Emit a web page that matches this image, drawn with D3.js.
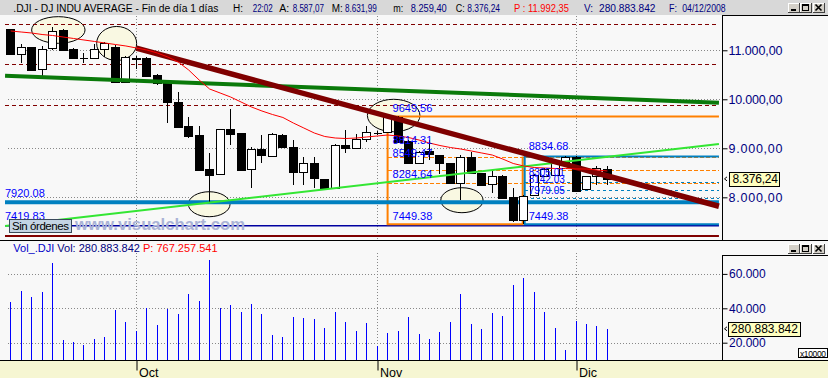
<!DOCTYPE html>
<html><head><meta charset="utf-8">
<script src="https://cdn.jsdelivr.net/npm/d3@7"></script>
<style>
body{margin:0;background:#f8f8f8;}
svg{display:block;font-family:"Liberation Sans",Arial,sans-serif;}
</style></head>
<body><svg id="c" width="828" height="378"></svg>
<script>
// ---------------- DATA ----------------
const dates = ["2008-09-15","2008-09-16","2008-09-17","2008-09-18","2008-09-19","2008-09-22","2008-09-23","2008-09-24","2008-09-25","2008-09-26","2008-09-29","2008-09-30",
"2008-10-01","2008-10-02","2008-10-03","2008-10-06","2008-10-07","2008-10-08","2008-10-09","2008-10-10","2008-10-13","2008-10-14","2008-10-15","2008-10-16","2008-10-17","2008-10-20","2008-10-21","2008-10-22","2008-10-23","2008-10-24","2008-10-27","2008-10-28","2008-10-29","2008-10-30","2008-10-31",
"2008-11-03","2008-11-04","2008-11-05","2008-11-06","2008-11-07","2008-11-10","2008-11-11","2008-11-12","2008-11-13","2008-11-14","2008-11-17","2008-11-18","2008-11-19","2008-11-20","2008-11-21","2008-11-24","2008-11-25","2008-11-26","2008-11-28",
"2008-12-01","2008-12-02","2008-12-03","2008-12-04"];
const openPrices  = [11429,10918,11061,10612,11041,11414,11020,10840,10837,11020,11073,10359,10840,10837,10496,10327,9951,9455,9271,8571,8469,9394,9306,8571,8986,8849,9271,9033,8522,8694,8367,8184,9067,9000,9190,9310,9327,9645,9155,8694,8945,8863,8694,8286,8816,8490,8271,8435,8012,7537,8050,8435,8455,8727,8829,8163,8435,8587.07];
const highPrices  = [11440,11129,11070,11094,11482,11430,11040,10939,11129,11170,11108,10880,10884,10860,10520,10330,10155,9645,9455,8898,9400,9796,9320,9033,9271,9320,9300,9169,8829,8829,8380,9080,9373,9300,9455,9350,9649.56,9650,9170,8950,9169,8870,8710,8863,8918,8500,8557,8450,8184,8050,8470,8600,8740,8834.68,8834,8440,8639,8631.99];
const lowPrices   = [10910,10747,10584,10461,11010,10990,10820,10747,10830,10857,10350,10350,10612,10470,10300,9522,9430,9204,8540,7878,8460,9067,8540,8196,8706,8840,9020,8251,8251,8184,8170,8170,8898,8990,9135,9270,9310,9120,8680,8680,8761,8469,8270,7945,8469,8240,8082,7980,7502,7449.38,8040,8420,8440,8720,8130,8150,8251,8259.40];
const closePrices = [10918,11073,10598,11020,11394,11006,10849,10837,11020,11155,10359,10869,10831,10482,10327,9951,9441,9257,8557,8449,9394,9292,8557,8986,8863,9298,9033,8522,8694,8388,8184,9067,9000,9184,9327,9306,9645,9135,8694,8931,8878,8694,8286,8829,8490,8251,8435,7992,7537,8033,8455,8571,8727,8829,8135,8435,8604,8376.24];
// volume in units of 10000 shares
const volumes = [43800,50200,46700,49700,66500,21600,20600,18800,22300,23500,39200,32200,26800,40300,30300,39800,36900,48500,44400,68100,40300,42100,38000,42700,36900,24700,23500,35100,34500,34000,28700,38000,32200,27000,31600,18100,25800,27000,35100,25200,22200,26400,32200,48500,31000,28100,37400,35700,53700,57600,49700,38000,28500,15900,32800,31000,29900,28088];
const movingAverage = [11394,11373,11353,11322,11302,11271,11241,11210,11180,11149,11118,11088,11047,11006,10945,10863,10761,10598,10394,10210,10129,10047,9945,9843,9761,9690,9629,9516,9414,9312,9241,9210,9200,9210,9231,9251,9271,9251,9220,9169,9108,9057,9016,8985,8945,8904,8863,8781,8690,8639,8608,8598,8588,8588,8578,8578,8557,8537];
const priceTicks = [8000,9000,10000,11000];
const volumeTicks = [20000,40000,60000];
const monthStarts = ["2008-10-01","2008-11-03","2008-12-01"];
const monthLabels = ["Oct","Nov","Dic"];
const dashedResistances = [11531,10714,9878];
const blueSupport = 7920.08;
const navySupport = 7419.83;
const floorLevel = 7210;
// trend lines: [bar index, price]
const downTrend = [[12,11045],[67.65,7818]];
const greenTrend = [[-0.54,10479],[67.65,9931]];
const lightGreenTrend = [[-0.54,7414],[67.65,9088]];
// fibonacci retracements
const fibOrangeBars = [36,49];
const fibOrangeRange = [9649.56,7449.38];
const fibOrangeLevels = [8814.31,8549.47,8284.64];
const fibBlueBar = 49;
const fibBlueRange = [8834.68,7449.38];
const fibBlueLevels = [8305.01,8142.03,7979.05];
// marker ellipses: [center bar, center price, radius bars, radius price]
const markerEllipses = [[4.55,11414,2.55,272],[10.12,11139,1.91,347],[18.96,7859,1.99,255],[36.58,9669,2.51,331],[43.1,7941,2.02,255]];
const lastPrice = 8376.24, lastVolumeShares = 280883842, lastVolume = 28088;

// ---------------- SETUP ----------------
const W=828,H=378, lastIdx=67.65;
const svg=d3.select("#c");
const loc=d3.formatLocale({decimal:",",thousands:".",grouping:[3],currency:["","€"]});
const fmtPrice=loc.format(",.2f"), fmtVol=loc.format(",.0f");
const x=d3.scaleLinear().domain([-1.022,67.75]).range([0,720]);
const y=d3.scaleLinear().domain([7129,11618]).range([240,20]);
const yv=d3.scaleLinear().domain([9942,70988]).range([360,255]);
const px=i=>Math.floor(x(i))+0.5;
const monthIdx=monthStarts.map(m=>dates.indexOf(m));

// backgrounds
svg.append("rect").attr("width",W).attr("height",H).attr("fill","#f8f8f8");
svg.append("rect").attr("width",W).attr("height",15).attr("fill","#d8d8d8");
svg.append("rect").attr("y",360).attr("width",W).attr("height",18).attr("fill","#f6f6d2");

const defs=svg.append("defs");
defs.append("clipPath").attr("id","pclip").append("rect").attr("x",0).attr("y",15).attr("width",722).attr("height",225);
const P=svg.append("g").attr("clip-path","url(#pclip)");

// grid
const grid=P.append("g").attr("stroke","#888").attr("stroke-dasharray","1,2").attr("shape-rendering","crispEdges");
priceTicks.forEach(t=>grid.append("line").attr("x1",8).attr("x2",722).attr("y1",Math.round(y(t))+0.5).attr("y2",Math.round(y(t))+0.5));
monthIdx.forEach(i=>grid.append("line").attr("x1",px(i)).attr("x2",px(i)).attr("y1",16).attr("y2",240));

// ellipses
P.append("g").selectAll("ellipse").data(markerEllipses).join("ellipse")
 .attr("cx",d=>x(d[0])).attr("cy",d=>y(d[1]))
 .attr("rx",d=>x(d[0]+d[2])-x(d[0])).attr("ry",d=>y(d[1]-d[3])-y(d[1]))
 .attr("fill","#f9f8e2").attr("stroke","#000").attr("stroke-width",1);

// horizontal references
const hx1=x(-0.544), hx2=x(lastIdx);
dashedResistances.forEach(p=>P.append("line").attr("x1",hx1).attr("x2",hx2).attr("y1",Math.round(y(p))+0.5).attr("y2",Math.round(y(p))+0.5)
  .attr("stroke","#800000").attr("stroke-dasharray","4,3").attr("shape-rendering","crispEdges"));
P.append("line").attr("x1",hx1).attr("x2",hx2).attr("y1",y(floorLevel)).attr("y2",y(floorLevel)).attr("stroke","#800000").attr("stroke-width",2);
P.append("line").attr("x1",hx1).attr("x2",hx2).attr("y1",y(navySupport)).attr("y2",y(navySupport)).attr("stroke","#0000a0").attr("stroke-width",1.5);

// fib orange
const oL=x(fibOrangeBars[0]), oR=x(fibOrangeBars[1])-1;
fibOrangeLevels.forEach(p=>P.append("line").attr("x1",oL).attr("x2",hx2).attr("y1",Math.round(y(p))+0.5).attr("y2",Math.round(y(p))+0.5)
  .attr("stroke","#ff8000").attr("stroke-dasharray","4,2").attr("shape-rendering","crispEdges"));
P.append("path").attr("d",`M${hx2},${y(fibOrangeRange[0])}H${oL}V${y(fibOrangeRange[1])}H${oR}V${y(fibBlueRange[0])}`)
  .attr("fill","none").attr("stroke","#ff8000").attr("stroke-width",2);
// fib blue
const bL=x(fibBlueBar)+1;
fibBlueLevels.forEach(p=>P.append("line").attr("x1",bL).attr("x2",hx2).attr("y1",Math.round(y(p))+0.5).attr("y2",Math.round(y(p))+0.5)
  .attr("stroke","#0080c0").attr("stroke-dasharray","3,3").attr("shape-rendering","crispEdges"));
P.append("path").attr("d",`M${hx2},${y(fibBlueRange[0])}H${bL}V${y(fibBlueRange[1])}H${hx2}`)
  .attr("fill","none").attr("stroke","#0080c0").attr("stroke-width",2);
P.append("line").attr("x1",hx1).attr("x2",hx2).attr("y1",y(blueSupport)+1).attr("y2",y(blueSupport)+1).attr("stroke","#0080c0").attr("stroke-width",4);

// candles
const cg=P.append("g").attr("shape-rendering","crispEdges");
dates.forEach((d,i)=>{
  const cx=px(i), o=openPrices[i], c=closePrices[i];
  cg.append("line").attr("x1",cx).attr("x2",cx).attr("y1",Math.round(y(highPrices[i]))).attr("y2",Math.round(y(lowPrices[i]))).attr("stroke","#000");
  const t=Math.round(y(Math.max(o,c)))+0.5, b=Math.round(y(Math.min(o,c)))+0.5;
  if(b-t<1){cg.append("line").attr("x1",cx-4).attr("x2",cx+4).attr("y1",t).attr("y2",t).attr("stroke","#000");}
  else cg.append("rect").attr("x",cx-4).attr("y",t).attr("width",8).attr("height",b-t)
    .attr("fill",c>=o?"#fff":"#000").attr("stroke","#000");
});

// trend lines
const ln=d3.line().x(d=>x(d[0])).y(d=>y(d[1]));
P.append("path").attr("d",ln(greenTrend)).attr("stroke","#0a7a0a").attr("stroke-width",4).attr("fill","none");
P.append("path").attr("d",ln(lightGreenTrend)).attr("stroke","#33e633").attr("stroke-width",2).attr("fill","none");
P.append("path").attr("d",ln(downTrend)).attr("stroke","#7f0000").attr("stroke-width",5.5).attr("fill","none");
// moving average
P.append("path").attr("d",d3.line().x((d,i)=>x(i)).y(d=>y(d))(movingAverage)).attr("stroke","#ff0000").attr("stroke-width",1).attr("fill","none");

// labels
const lab=P.append("g").attr("font-size",11).attr("fill","#0000ff");
const addLab=(t,xx,p,dy,fs)=>lab.append("text").attr("x",xx).attr("y",y(p)+dy).attr("font-size",fs||11).text(t);
addLab(fibOrangeRange[0].toFixed(2),oL+5,fibOrangeRange[0],-4.5);
[-13.4,-13.1,-5.2].forEach((dy,k)=>addLab(fibOrangeLevels[k].toFixed(2),oL+5,fibOrangeLevels[k],dy));
addLab(fibOrangeRange[1].toFixed(2),oL+5,fibOrangeRange[1],-4.3);
addLab(fibBlueRange[0].toFixed(2),bL+4,fibBlueRange[0],-6);
[-6.6,-7,-4.8].forEach((dy,k)=>addLab(fibBlueLevels[k].toFixed(2),bL+4,fibBlueLevels[k],dy,10));
addLab(fibBlueRange[1].toFixed(2),bL+4,fibBlueRange[1],-4.3);
addLab(blueSupport.toFixed(2),hx1,blueSupport,-4.5);
addLab(navySupport.toFixed(2),hx1,navySupport,-5.7);

// watermark + button
svg.append("text").attr("x",75).attr("y",230).attr("font-size",16).attr("font-weight","bold").attr("fill","#aab3d6")
  .attr("textLength",170).attr("lengthAdjust","spacingAndGlyphs").text("www.visualchart.com");
svg.append("rect").attr("x",9.5).attr("y",219.5).attr("width",62).attr("height",13).attr("fill","#c4d4e4").attr("stroke","#3a4a5a");
svg.append("text").attr("x",12).attr("y",230).attr("font-size",11.5).attr("fill","#000").attr("textLength",57).text("Sin órdenes");

// price axis
svg.append("path").attr("d","M722.5,240V15.5H828").attr("fill","none").attr("stroke","#000").attr("shape-rendering","crispEdges");
const ay=svg.append("g").attr("transform","translate(722.5,0)")
  .call(d3.axisRight(y).tickValues(priceTicks).tickSize(5).tickPadding(1).tickFormat(fmtPrice));
ay.select(".domain").remove();
ay.selectAll("line").attr("stroke","#000");
ay.selectAll("text").attr("fill","#000080").attr("font-size",12.5).attr("font-family","Liberation Sans, Arial, sans-serif").attr("textLength",54);
// current price marker
const yl=y(lastPrice);
svg.append("path").attr("d",`M727,${yl-2}L724.5,${yl}L727,${yl+2}`).attr("fill","none").attr("stroke","#000");
svg.append("rect").attr("x",729.5).attr("y",Math.round(yl-7)+0.5).attr("width",50).attr("height",14).attr("fill","#ffffc0").attr("stroke","#000");
svg.append("text").attr("x",732.5).attr("y",yl+4.5).attr("font-size",12).attr("fill","#000").attr("textLength",45.5).text(fmtPrice(lastPrice));

// separators
svg.append("line").attr("x1",0).attr("x2",W).attr("y1",240.5).attr("y2",240.5).attr("stroke","#000");

// title (horizontally condensed like the original bitmap font)
const navy="#000080", sx=0.76;
const titleSegs=[[".DJI - DJ INDU AVERAGE - Fin de día 1 días",13.3,205,"#000"],["H:",233,10,"#000"],["22:02",252.7,20,navy],
["A:",279.3,10,"#000"],["8.587,07",292.7,31.3,navy],["M:",331.7,11,"#000"],["8.631,99",345,31.7,navy],
["m:",393.3,10,"#000"],["8.259,40",410.7,36,navy],["C:",455.7,9,"#000"],["8.376,24",467.3,32.7,navy],
["P : 11.992,35",514,55,"#ff0000"],["V:",584,9,navy],["280.883.842",599,56.5,navy],["F:",669,8,navy],["04/12/2008",682.3,43.3,navy]];
const tg=svg.append("g").attr("transform",`scale(${sx},1)`);
titleSegs.forEach(s=>tg.append("text").attr("x",s[1]/sx).attr("y",11.7).attr("font-size",11).attr("fill",s[3])
  .attr("textLength",s[2]/sx).attr("lengthAdjust","spacingAndGlyphs").text(s[0]));

function buttons(y0){
  [788,800,812.5].forEach((bx,k)=>{
    const g=svg.append("g").attr("shape-rendering","crispEdges");
    g.append("rect").attr("x",bx).attr("y",y0).attr("width",11.5).attr("height",9.5).attr("fill","#d4d0c8");
    g.append("path").attr("d",`M${bx+0.5},${y0+9.5}V${y0+0.5}H${bx+11.5}`).attr("stroke","#fff").attr("fill","none");
    g.append("path").attr("d",`M${bx},${y0+9.5}H${bx+11.5}V${y0}`).attr("stroke","#404040").attr("fill","none");
    if(k===0) g.append("rect").attr("x",bx+3).attr("y",y0+6).attr("width",5).attr("height",2).attr("fill","#000");
    if(k===1){ g.append("rect").attr("x",bx+2.5).attr("y",y0+1.5).attr("width",6).attr("height",6).attr("fill","none").attr("stroke","#000");
               g.append("rect").attr("x",bx+2.5).attr("y",y0+1.5).attr("width",6).attr("height",1.5).attr("fill","#000");}
    if(k===2) g.append("path").attr("d",`M${bx+3},${y0+2}L${bx+9},${y0+8}M${bx+9},${y0+2}L${bx+3},${y0+8}`).attr("stroke","#000").attr("stroke-width",1.6).attr("shape-rendering","auto");
  });
}
buttons(2.5);
buttons(243.5);

// volume header
const vh=svg.append("text").attr("x",13.3).attr("y",252).attr("font-size",11);
vh.append("tspan").attr("fill","#0000c8").text("Vol_.DJI ");
vh.append("tspan").attr("fill",navy).text(" Vol: 280.883.842 ");
vh.append("tspan").attr("fill","#ff0000").text(" P: 767.257.541");

// volume grid
const vg=svg.append("g").attr("stroke","#888").attr("stroke-dasharray","1,2").attr("shape-rendering","crispEdges");
volumeTicks.forEach(t=>vg.append("line").attr("x1",8).attr("x2",722).attr("y1",Math.round(yv(t))+0.5).attr("y2",Math.round(yv(t))+0.5));
monthIdx.forEach(i=>vg.append("line").attr("x1",px(i)).attr("x2",px(i)).attr("y1",253).attr("y2",360));

// volume bars
svg.append("g").attr("shape-rendering","crispEdges").selectAll("line").data(volumes).join("line")
  .attr("x1",(d,i)=>px(i)).attr("x2",(d,i)=>px(i)).attr("y1",yv(yv.domain()[0])).attr("y2",d=>Math.round(yv(d)))
  .attr("stroke","#0000ff");

// volume axis
svg.append("path").attr("d","M722.5,360V255.5H828").attr("fill","none").attr("stroke","#000").attr("shape-rendering","crispEdges");
const av=svg.append("g").attr("transform","translate(722.5,0)")
  .call(d3.axisRight(yv).tickValues(volumeTicks).tickSize(5).tickPadding(1.5).tickFormat(fmtVol));
av.select(".domain").remove();
av.selectAll("line").attr("stroke","#000");
av.selectAll("text").attr("fill","#000080").attr("font-size",12).attr("font-family","Liberation Sans, Arial, sans-serif");
const yvl=yv(lastVolume);
svg.append("path").attr("d",`M727,${yvl-2}L724.5,${yvl}L727,${yvl+2}`).attr("fill","none").attr("stroke","#000");
svg.append("rect").attr("x",728.5).attr("y",Math.round(yvl-7)+0.5).attr("width",72).attr("height",14).attr("fill","#ffffc0").attr("stroke","#000");
svg.append("text").attr("x",731).attr("y",yvl+4.5).attr("font-size",12).attr("fill","#000").attr("textLength",67).text(fmtVol(lastVolumeShares));
svg.append("rect").attr("x",798.5).attr("y",348.5).attr("width",29).attr("height",9).attr("fill","#fff").attr("stroke","#000");
svg.append("text").attr("x",800).attr("y",356.5).attr("font-size",8.5).attr("fill","#000").attr("textLength",26).text("x10000");

// x axis
svg.append("line").attr("x1",0).attr("x2",W).attr("y1",360.5).attr("y2",360.5).attr("stroke","#000");
const ax=svg.append("g").attr("transform","translate(0,360.5)")
  .call(d3.axisBottom(x).tickValues(monthIdx.map(i=>Math.floor(x(i))+0.5).map(v=>x.invert(v))).tickSize(10).tickFormat((d,k)=>monthLabels[k]));
ax.select(".domain").remove();
ax.selectAll("line").attr("stroke","#000");
ax.selectAll("text").attr("fill","#000").attr("font-size",12.5).attr("font-family","Liberation Sans, Arial, sans-serif")
  .attr("text-anchor","start").attr("x",2).attr("y",16).attr("dy",0);
</script></body></html>
